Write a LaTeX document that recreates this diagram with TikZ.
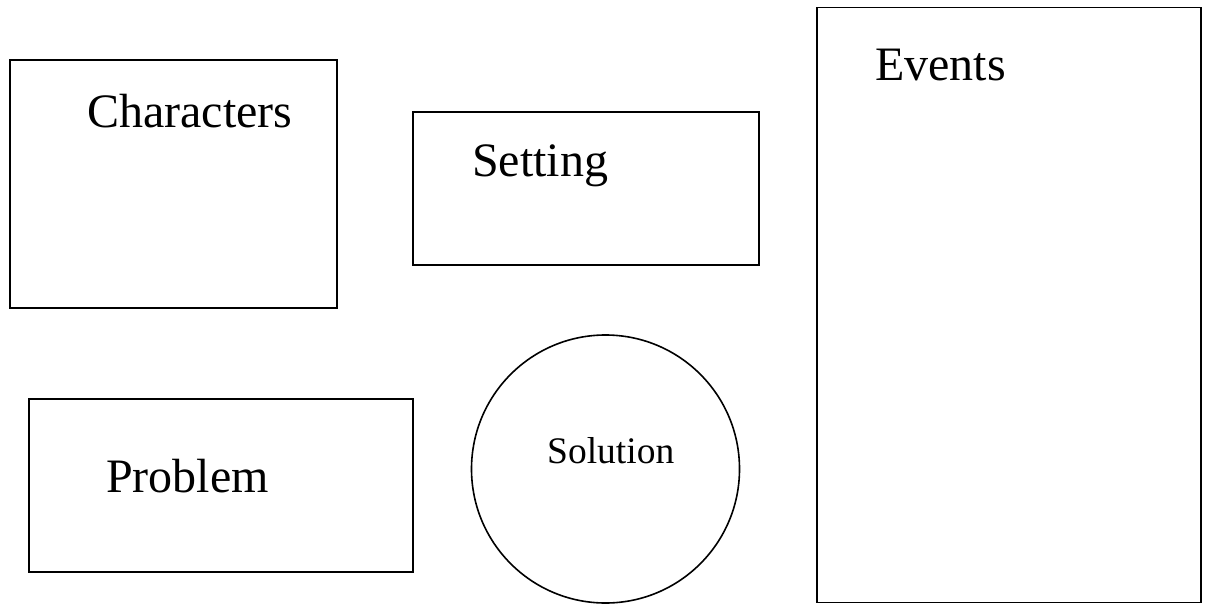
\documentclass[tikz,border=0pt]{standalone}
\usepackage{fontspec}
\setmainfont{Liberation Serif}
\tikzset{
  part/.style={draw, line width=1.6pt, inner sep=0pt},
  big/.style={anchor=base west, inner sep=0pt, font=\fontsize{48}{56}\selectfont},
  small/.style={anchor=base west, inner sep=0pt, font=\fontsize{37.5}{44}\selectfont}
}
\begin{document}
\begin{tikzpicture}[x=1pt, y=-1pt]
\useasboundingbox (0,0) rectangle (1206,604);
\node [part, minimum width=327pt, minimum height=248pt] (chars) at (173.5,184) {};
\node [part, minimum width=346pt, minimum height=153pt] (setting) at (586,188.5) {};
\node [part, minimum width=384pt, minimum height=595pt] (events) at (1009,305) {};
\node [part, minimum width=384pt, minimum height=173pt] (problem) at (221,485.5) {};
\node [part, circle, minimum size=268pt] (solution) at (605.5,469) {};
\node [big] (charslabel) at (87,128) {Characters};
\node [big] (settinglabel) at (472,177) {Setting};
\node [big] (eventslabel) at (875,81) {Events};
\node [big] (problemlabel) at (106,492) {Problem};
\node [small] (solutionlabel) at (547,463) {Solution};
\end{tikzpicture}
\end{document}
